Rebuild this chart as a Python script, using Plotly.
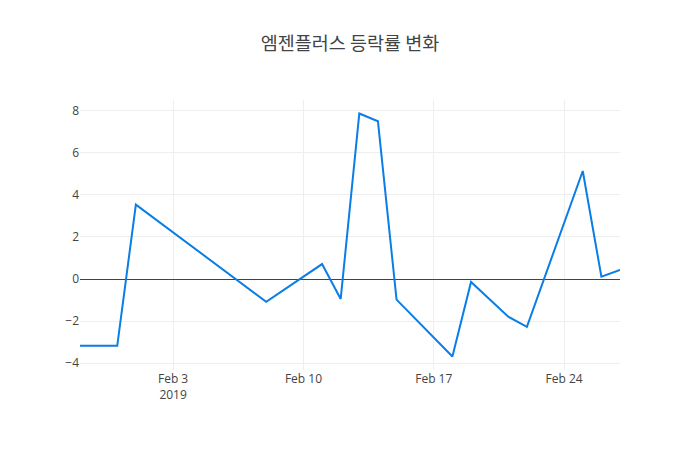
import plotly.graph_objects as go

dates = ["2019-01-29", "2019-01-31", "2019-02-01", "2019-02-08", "2019-02-11",
         "2019-02-12", "2019-02-13", "2019-02-14", "2019-02-15", "2019-02-18",
         "2019-02-19", "2019-02-20", "2019-02-21", "2019-02-22", "2019-02-25",
         "2019-02-26", "2019-02-27"]
changes = [-3.17, -3.17, 3.53, -1.08, 0.71, -0.95, 7.86, 7.49, -0.98, -3.68,
           -0.14, -0.97, -1.79, -2.27, 5.13, 0.11, 0.43]

title = "엠젠플러스 등락률 변화"

fig = go.Figure(go.Scatter(x=dates, y=changes, mode="lines",
                           line=dict(color="rgb(10,125,230)", width=2)))
fig.update_layout(
    width=700, height=450,
    title=dict(text=title, x=0.5, xanchor="center", y=1 - 44 / 450, yanchor="middle",
               font=dict(family="Noto Sans CJK KR, Open Sans", size=18.5, color="#444")),
    plot_bgcolor="white", paper_bgcolor="white",
    margin=dict(l=80, r=80, t=100, b=80),
    font=dict(family="Open Sans", size=12, color="#444"),
)
fig.update_xaxes(showgrid=True, gridcolor="#eee", zeroline=False)
fig.update_yaxes(showgrid=True, gridcolor="#eee", zeroline=True,
                 zerolinecolor="#444", zerolinewidth=1, dtick=2)
fig.write_html("out.html", config={"displayModeBar": False},
               post_script="document.body.style.margin='0';")
